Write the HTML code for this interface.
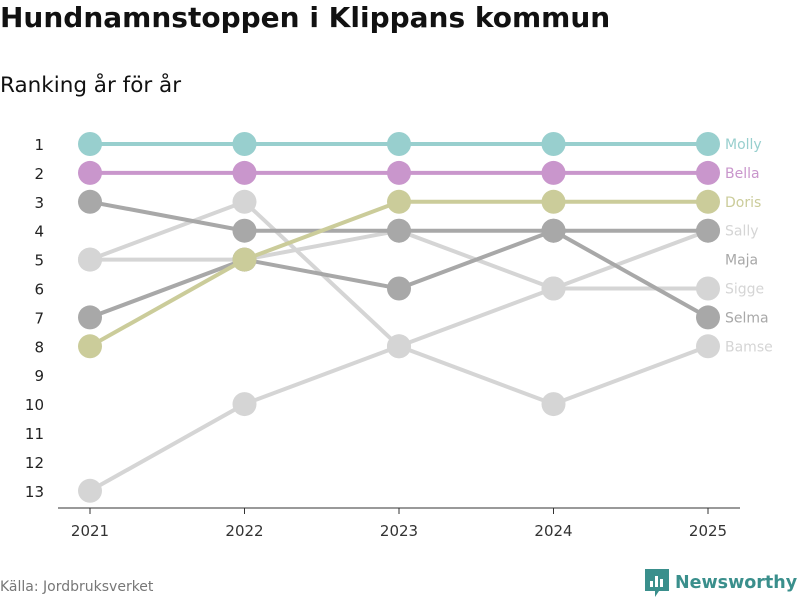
<!DOCTYPE html>
<html><head><meta charset="utf-8"><style>
body{margin:0;width:800px;height:600px;background:#fff;font-family:"DejaVu Sans","Liberation Sans",sans-serif;overflow:hidden;position:relative}
#title{position:absolute;left:0;top:1px;font-size:28px;font-weight:bold;color:#111}
#sub{position:absolute;left:0;top:73px;font-size:21.5px;color:#111}
#src{position:absolute;left:0;top:579px;font-size:14px;color:#777}
#logo{position:absolute;left:645px;top:569px;font-size:17.5px;font-weight:bold;color:#3a8f8c;display:flex;align-items:center;gap:6px}
svg{position:absolute;left:0;top:0}
</style></head><body>
<div id="title">Hundnamnstoppen i Klippans kommun</div>
<div id="sub">Ranking år för år</div>
<svg id="chart" width="800" height="600"></svg>
<div id="src">Källa: Jordbruksverket</div>
<div id="logo"><svg width="24" height="28" style="position:static"><path d="M0 0H24V22H14L10 28V22H0Z" fill="#3a8f8c"/><rect x="5" y="12" width="3" height="6" fill="#fff"/><rect x="10" y="7" width="3" height="11" fill="#fff"/><rect x="15" y="10" width="3" height="8" fill="#fff"/></svg>Newsworthy</div>
<script>
const years=[2021,2022,2023,2024,2025];
const names=["Sigge","Bamse","Sally","Selma","Maja","Doris","Bella","Molly"];
const ranks=[[5,5,4,6,6],[5,3,8,10,8],[13,10,8,6,4],[7,5,6,4,7],[3,4,4,4,4],[8,5,3,3,3],[2,2,2,2,2],[1,1,1,1,1]];
const colors=["#d5d5d5","#d5d5d5","#d5d5d5","#a8a8a8","#a8a8a8","#cbcc9a","#c996cc","#98cfce"];
const labelRanks=[6,8,4,7,5,3,2,1];
const yTicks=[1,2,3,4,5,6,7,8,9,10,11,12,13];
const NS="http://www.w3.org/2000/svg";
const svg=document.getElementById('chart');
const x=y=>90+(y-2021)*154.5;
const yy=r=>144+(r-1)*28.9;
function mk(t,a){const e=document.createElementNS(NS,t);for(const k in a)e.setAttribute(k,a[k]);svg.appendChild(e);return e;}
let ax=mk('line',{x1:58,x2:740,y1:508,y2:508,stroke:'#333','stroke-width':1});


years.forEach(yr=>{
 const tk=mk('line',{x1:x(yr),x2:x(yr),y1:508,y2:514,stroke:'#333'});
 
 
 const t=mk('text',{x:x(yr),y:536,'text-anchor':'middle','font-size':15,fill:'#333'});t.textContent=yr;
 
 
});
yTicks.forEach(r=>{const t=mk('text',{x:44,y:yy(r)+6,'text-anchor':'end','font-size':15,fill:'#222'});t.textContent=r;
 
 });
names.forEach((n,i)=>{
 const g=mk('g',{});
 
 
 const pl=document.createElementNS(NS,'polyline');
 pl.setAttribute('points',ranks[i].map((r,j)=>x(years[j])+','+yy(r)).join(' '));
 pl.setAttribute('fill','none');pl.setAttribute('stroke',colors[i]);pl.setAttribute('stroke-width',4);
 
 
 g.appendChild(pl);
 ranks[i].forEach((r,j)=>{const c=document.createElementNS(NS,'circle');
  c.setAttribute('cx',x(years[j]));c.setAttribute('cy',yy(r));c.setAttribute('r',12);c.setAttribute('fill',colors[i]);
  
  
  g.appendChild(c);});
 const t=mk('text',{x:725,y:yy(labelRanks[i])+5,'font-size':14,fill:colors[i]});t.textContent=n;
 
 
});
</script>
</body></html>
